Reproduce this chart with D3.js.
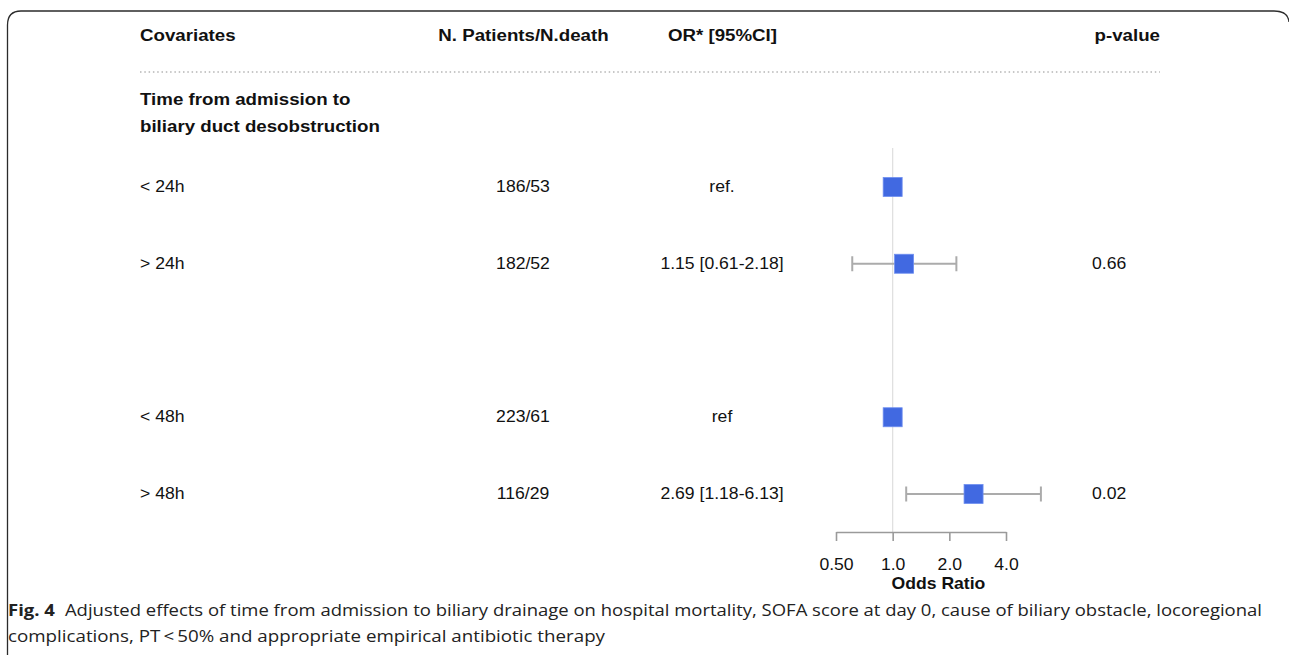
<!DOCTYPE html>
<html><head><meta charset="utf-8">
<script src="https://cdn.jsdelivr.net/npm/d3@7"></script>
<style>
html,body{margin:0;padding:0;background:#fff;}
svg{display:block;}
</style></head>
<body>
<svg id="chart" width="1289" height="655"></svg>
<script>
// ---- data ----
const headers = ["Covariates", "N. Patients/N.death", "OR* [95%CI]", "p-value"];
const groupLabel = ["Time from admission to", "biliary duct desobstruction"];
const categories = ["< 24h", "> 24h", "", "< 48h", "> 48h"];
const nPatients = ["186/53", "182/52", "", "223/61", "116/29"];
const orLabels = ["ref.", "1.15 [0.61-2.18]", "", "ref", "2.69 [1.18-6.13]"];
const pValues = ["", "0.66", "", "", "0.02"];
const orValues = [1, 1.15, null, 1, 2.69];
const ciLow = [null, 0.61, null, null, 1.18];
const ciHigh = [null, 2.18, null, null, 6.13];
const tickValues = [0.5, 1, 2, 4];
const tickLabels = ["0.50", "1.0", "2.0", "4.0"];
const axisTitle = "Odds Ratio";
const captionBold = "Fig. 4";
const captionLine1 = "Adjusted effects of time from admission to biliary drainage on hospital mortality, SOFA score at day 0, cause of biliary obstacle, locoregional";
const captionLine2 = "complications, PT\u2009<\u200950% and appropriate empirical antibiotic therapy";

// ---- setup ----
const svg = d3.select("#chart");
const FONT = "'Liberation Sans', Arial, Helvetica, sans-serif";
const SX = 1.1;

const rows = categories.map((c, i) => ({
  i, cat: c, n: nPatients[i], orl: orLabels[i], p: pValues[i],
  or: orValues[i], lo: ciLow[i], hi: ciHigh[i]
}));

const x = d3.scaleLog().base(2).domain([0.5, 4]).range([836, 1006]);
const y = d3.scalePoint().domain(d3.range(categories.length)).range([187, 494]);

// frame
svg.append("path")
  .attr("d", "M7.5,655 L7.5,25 Q7.5,11 21,11 L1274,11 Q1288,11 1289,22")
  .attr("fill", "none").attr("stroke", "#2b2b2b").attr("stroke-width", 1.3);

function txt(g, xPos, yPos, s, opts) {
  opts = opts || {};
  return g.append("text")
    .attr("transform", `translate(${xPos},${yPos}) scale(${SX},1)`)
    .attr("text-anchor", opts.anchor || "start")
    .attr("dominant-baseline", "central")
    .attr("font-family", FONT)
    .attr("font-size", opts.size || 16)
    .attr("font-weight", opts.bold ? "bold" : "normal")
    .attr("fill", opts.fill || "#111")
    .text(s);
}

// headers
const hg = svg.append("g");
txt(hg, 140, 35, headers[0], {bold: true, size: 17});
txt(hg, 523.5, 35, headers[1], {bold: true, size: 17, anchor: "middle"});
txt(hg, 722.5, 35, headers[2], {bold: true, size: 17, anchor: "middle"});
txt(hg, 1160, 35, headers[3], {bold: true, size: 17, anchor: "end"});

// dotted separator
svg.append("line").attr("x1", 140).attr("x2", 1160).attr("y1", 72).attr("y2", 72)
  .attr("stroke", "#b5b5b5").attr("stroke-width", 1.6).attr("stroke-dasharray", "1.5,2.8");

// group label
txt(hg, 140, 99, groupLabel[0], {bold: true, size: 17});
txt(hg, 140, 126, groupLabel[1], {bold: true, size: 17});

// reference vertical line
svg.append("line").attr("x1", x(1)).attr("x2", x(1)).attr("y1", 148).attr("y2", 532)
  .attr("stroke", "#dedede").attr("stroke-width", 1.2);

// row texts
const tg = svg.append("g");
rows.forEach(r => {
  if (r.cat) txt(tg, 140, y(r.i), r.cat, {size: 16});
  if (r.n) txt(tg, 523, y(r.i), r.n, {size: 16, anchor: "middle"});
  if (r.orl) txt(tg, 722, y(r.i), r.orl, {size: 16, anchor: "middle"});
  if (r.p) txt(tg, 1092, y(r.i), r.p, {size: 16});
});

// error bars
const ci = rows.filter(r => r.lo != null);
const eg = svg.append("g").attr("stroke", "#ababab").attr("stroke-width", 2).attr("fill", "none");
eg.selectAll("line.ci").data(ci).join("line").attr("class", "ci")
  .attr("x1", d => x(d.lo)).attr("x2", d => x(d.hi))
  .attr("y1", d => y(d.i)).attr("y2", d => y(d.i));
eg.selectAll("line.capl").data(ci).join("line").attr("class", "capl")
  .attr("x1", d => x(d.lo)).attr("x2", d => x(d.lo))
  .attr("y1", d => y(d.i) - 7.5).attr("y2", d => y(d.i) + 7.5);
eg.selectAll("line.caph").data(ci).join("line").attr("class", "caph")
  .attr("x1", d => x(d.hi)).attr("x2", d => x(d.hi))
  .attr("y1", d => y(d.i) - 7.5).attr("y2", d => y(d.i) + 7.5);

// squares
const S = 19;
svg.append("g").selectAll("rect").data(rows.filter(r => r.or != null)).join("rect")
  .attr("x", d => x(d.or) - S / 2).attr("y", d => y(d.i) - S / 2)
  .attr("width", S).attr("height", S)
  .attr("fill", "#4169e1").attr("stroke", "#6f8ff0").attr("stroke-width", 0.8);

// axis
const axisG = svg.append("g").attr("transform", "translate(0,532)");
axisG.call(d3.axisBottom(x).tickValues(tickValues).tickSize(9).tickSizeOuter(0)
  .tickFormat((d, i) => tickLabels[i]));
axisG.select(".domain").attr("stroke", "#9a9a9a").attr("stroke-width", 1.6);
axisG.selectAll(".tick line").attr("stroke", "#9a9a9a").attr("stroke-width", 1.6);
axisG.selectAll(".tick text").remove();
axisG.selectAll(".tick").each(function(d, i) {
  txt(d3.select(this), 0, 33, tickLabels[i], {size: 16, anchor: "middle"});
});
txt(svg, (x(0.5) + x(d3.max(ciHigh))) / 2, 584, axisTitle, {bold: true, size: 16, anchor: "middle"});

// caption
const CF = "'Open Sans', 'Noto Sans', sans-serif";
const c1 = svg.append("text").attr("x", 8).attr("y", 616)
  .attr("font-family", CF).attr("font-size", 16.5).attr("fill", "#222");
c1.append("tspan").attr("font-weight", "bold").text(captionBold);
c1.append("tspan").attr("dx", 9).text(captionLine1);
c1.attr("textLength", 1254).attr("lengthAdjust", "spacingAndGlyphs");
const c2 = svg.append("text").attr("x", 8).attr("y", 642)
  .attr("font-family", CF).attr("font-size", 16.5).attr("fill", "#222")
  .text(captionLine2)
  .attr("textLength", 597).attr("lengthAdjust", "spacingAndGlyphs");
</script>
</body></html>
